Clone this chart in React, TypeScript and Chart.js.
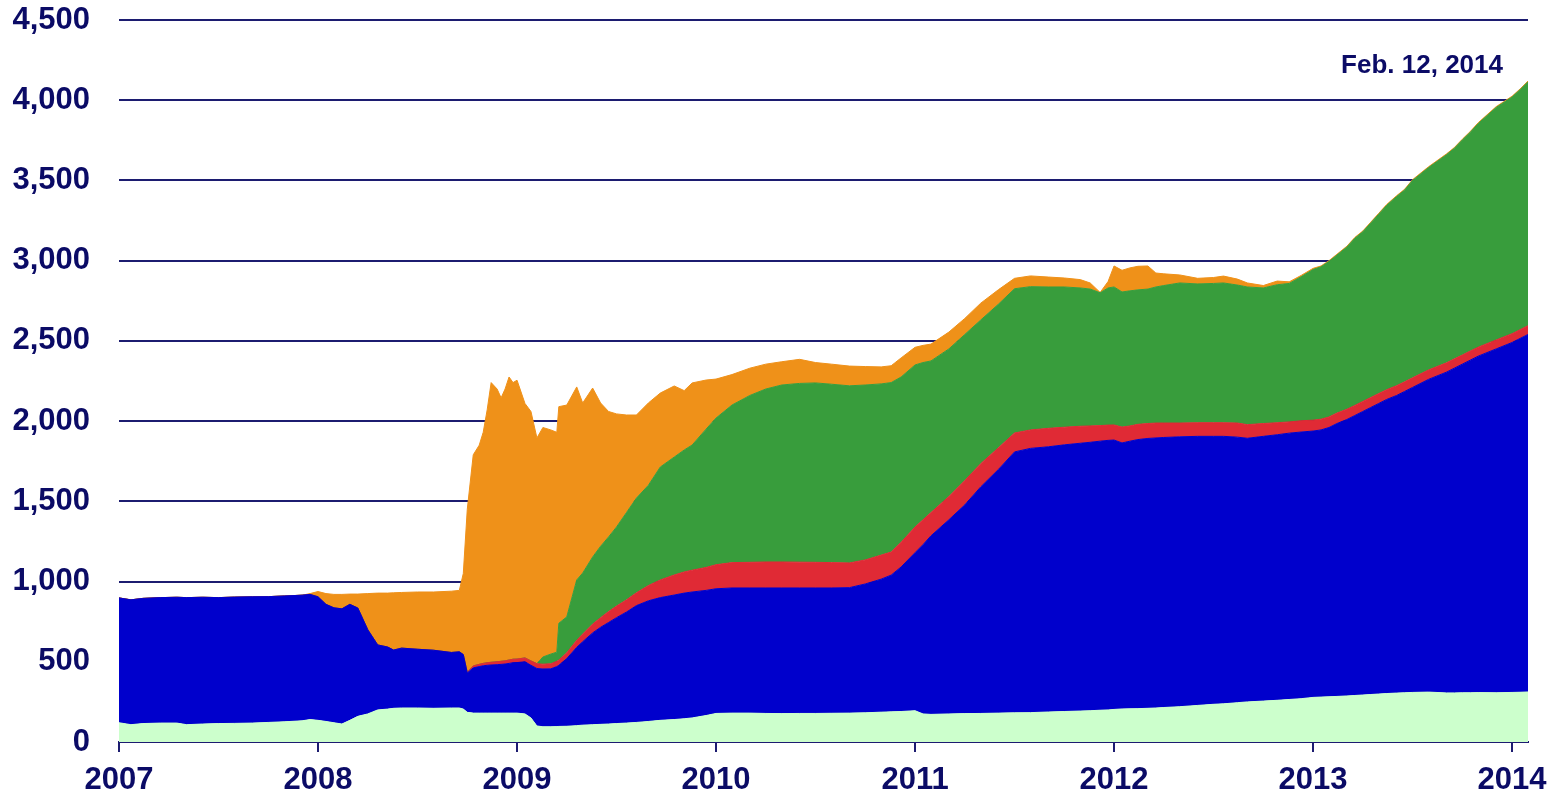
import React, { useEffect, useRef } from "react";
import { Chart, registerables } from "chart.js";

Chart.register(...registerables);

// Decimal-year dates of the sampled observations
const dates = [
  2007.0, 2007.06, 2007.12, 2007.21, 2007.29, 2007.34, 2007.42, 2007.5, 2007.58, 2007.67,
  2007.75, 2007.83, 2007.92, 2007.96, 2008.0, 2008.04, 2008.08, 2008.12, 2008.16, 2008.2,
  2008.25, 2008.3, 2008.35, 2008.38, 2008.42, 2008.5, 2008.58, 2008.67, 2008.71, 2008.73,
  2008.75, 2008.78, 2008.81, 2008.83, 2008.85, 2008.87, 2008.9, 2008.92, 2008.94, 2008.96,
  2008.98, 2009.0, 2009.04, 2009.07, 2009.1, 2009.13, 2009.17, 2009.2, 2009.21, 2009.25,
  2009.3, 2009.33, 2009.38, 2009.42, 2009.46, 2009.5, 2009.55, 2009.6, 2009.66, 2009.72,
  2009.79, 2009.84, 2009.88, 2009.95, 2010.0, 2010.08, 2010.17, 2010.25, 2010.33, 2010.42,
  2010.5, 2010.58, 2010.67, 2010.75, 2010.83, 2010.88, 2010.93, 2011.0, 2011.04, 2011.08,
  2011.17, 2011.25, 2011.33, 2011.42, 2011.5, 2011.58, 2011.67, 2011.75, 2011.83, 2011.88,
  2011.93, 2011.97, 2012.0, 2012.04, 2012.08, 2012.12, 2012.17, 2012.21, 2012.25, 2012.33,
  2012.42, 2012.5, 2012.55, 2012.62, 2012.67, 2012.75, 2012.82, 2012.88, 2012.94, 2013.0,
  2013.04, 2013.08, 2013.12, 2013.17, 2013.21, 2013.25, 2013.29, 2013.33, 2013.37, 2013.42,
  2013.46, 2013.5, 2013.58, 2013.67, 2013.71, 2013.75, 2013.79, 2013.83, 2013.92, 2014.0,
  2014.04, 2014.08,
];

// Billions of dollars, stacked bottom to top
const otherAssets = [
  120, 108, 115, 118, 118, 108, 112, 115, 116, 118,
  122, 126, 132, 140, 135, 128, 120, 112, 135, 160,
  175, 200, 205, 210, 212, 212, 210, 212, 212, 205,
  185, 180, 180, 180, 180, 180, 180, 180, 180, 180,
  180, 180, 175, 150, 100, 95, 95, 96, 97, 98,
  102, 105, 108, 110, 112, 115, 118, 122, 128, 135,
  140, 145, 150, 165, 178, 180, 180, 178, 177, 178,
  178, 179, 180, 182, 186, 188, 190, 195, 175, 172,
  175, 177, 178, 180, 182, 183, 187, 190, 193, 195,
  198, 200, 203, 206, 207, 208, 210, 212, 215, 220,
  228, 235, 238, 245, 250, 255, 260, 265, 270, 278,
  280, 282, 284, 287, 290, 293, 296, 299, 302, 305,
  307, 309, 311, 306, 306, 307, 307, 308, 307, 309,
  310, 312,
];

const treasuries = [
  778, 778, 780, 782, 784, 792, 790, 785, 787, 787,
  784, 784, 783, 780, 770, 730, 716, 718, 723, 675,
  525, 405, 387, 363, 373, 366, 362, 346, 350, 340,
  245, 282, 290, 295, 298, 300, 302, 304, 306, 310,
  314, 315, 325, 328, 358, 360, 361, 374, 381, 422,
  488, 520, 572, 605, 633, 660, 692, 728, 752, 765,
  776, 783, 785, 780, 777, 780, 780, 782, 783, 782,
  782, 781, 782, 803, 829, 852, 901, 985, 1055, 1113,
  1210, 1301, 1412, 1520, 1626, 1647, 1653, 1662, 1669, 1673,
  1677, 1680, 1679, 1658, 1668, 1677, 1682, 1683, 1683, 1682,
  1677, 1670, 1667, 1655, 1643, 1650, 1655, 1660, 1662, 1660,
  1665, 1678, 1701, 1723, 1745, 1767, 1789, 1811, 1833, 1855,
  1878, 1901, 1949, 1999, 2024, 2048, 2073, 2097, 2143, 2181,
  2205, 2228,
];

const agencyDebt = [
  0, 0, 0, 0, 0, 0, 0, 0, 0, 0,
  0, 0, 0, 0, 0, 0, 0, 0, 0, 0,
  0, 0, 0, 0, 0, 0, 0, 0, 0, 0,
  5, 12, 14, 15, 16, 17, 18, 19, 20, 21,
  22, 22, 24, 27, 30, 30, 32, 33, 33, 36,
  44, 48, 55, 60, 68, 72, 76, 80, 95, 110,
  125, 132, 136, 143, 150, 158, 160, 162, 162, 161,
  160, 158, 154, 150, 150, 144, 154, 160, 155, 145,
  145, 152, 145, 135, 118, 115, 115, 110, 106, 102,
  97, 95, 94, 99, 95, 95, 93, 93, 90, 86,
  85, 85, 85, 88, 85, 80, 75, 70, 70, 68,
  67, 66, 65, 64, 63, 63, 62, 62, 61, 61,
  60, 60, 59, 58, 58, 57, 57, 56, 56, 55,
  55, 55,
];

const mbs = [
  0, 0, 0, 0, 0, 0, 0, 0, 0, 0,
  0, 0, 0, 0, 0, 0, 0, 0, 0, 0,
  0, 0, 0, 0, 0, 0, 0, 0, 0, 0,
  0, 0, 0, 0, 0, 0, 0, 0, 0, 0,
  0, 0, 0, 0, 0, 45, 60, 57, 229, 224,
  376, 380, 418, 445, 465, 493, 544, 590, 625, 704,
  735, 760, 780, 862, 914, 982, 1040, 1078, 1103, 1114,
  1118, 1112, 1104, 1090, 1067, 1056, 1030, 1010, 980, 945,
  920, 910, 895, 895, 899, 893, 881, 874, 862, 853,
  828, 855, 860, 842, 842, 838, 838, 848, 857, 873,
  865, 868, 871, 860, 858, 845, 860, 863, 898, 939,
  950, 969, 985, 1011, 1042, 1057, 1088, 1118, 1149, 1179,
  1195, 1230, 1261, 1297, 1312, 1340, 1363, 1394, 1449, 1475,
  1495, 1520,
];

const lending = [
  0, 0, 0, 0, 0, 0, 0, 0, 0, 0,
  0, 0, 0, 5, 33, 67, 84, 90, 64, 87,
  225, 323, 336, 357, 347, 357, 363, 382, 383, 505,
  1015, 1316, 1366, 1440, 1576, 1743, 1700, 1642, 1694, 1764,
  1724, 1738, 1586, 1555, 1407, 1430, 1397, 1370, 1350, 1320,
  1203, 1060, 1053, 893, 782, 705, 608, 518, 513, 461,
  443, 370, 387, 306, 243, 190, 170, 155, 145, 150,
  127, 125, 123, 115, 106, 105, 119, 110, 107, 105,
  105, 100, 105, 90, 65, 67, 62, 56, 52, 38,
  2, 40, 131, 135, 143, 147, 144, 87, 73, 50,
  35, 37, 43, 37, 25, 15, 23, 10, 8, 7,
  5, 5, 5, 5, 5, 5, 5, 5, 5, 5,
  5, 5, 5, 5, 5, 5, 5, 5, 5, 5,
  5, 5,
];

const yearTicks = [2007, 2008, 2009, 2010, 2011, 2012, 2013, 2014];
const yTicks = [0, 500, 1000, 1500, 2000, 2500, 3000, 3500, 4000, 4500];
const dateLabel = "Feb. 12, 2014";

const NAVY = "#0b0b66";
const GRID = "#1c1c70";
const FONT = "'Liberation Sans', Arial, sans-serif";

const series = [
  { name: "Other assets", values: otherAssets, color: "#ccffcc" },
  { name: "Treasuries", values: treasuries, color: "#0000cc" },
  { name: "Agency debt", values: agencyDebt, color: "#e02a35" },
  { name: "Mortgage-backed securities", values: mbs, color: "#389d3c" },
  { name: "Lending", values: lending, color: "#ef9119" },
];

export default function App() {
  const ref = useRef<HTMLCanvasElement | null>(null);

  useEffect(() => {
    if (!ref.current) return;
    const labelPlugin = {
      id: "dateLabel",
      afterDraw(chart: any) {
        const { ctx, chartArea } = chart;
        ctx.save();
        ctx.font = `bold 26px ${FONT}`;
        ctx.fillStyle = NAVY;
        ctx.textAlign = "right";
        ctx.textBaseline = "alphabetic";
        ctx.fillText(dateLabel, chartArea.right - 25, chartArea.top + 53);
        ctx.restore();
      },
    };

    const chart = new Chart(ref.current, {
      type: "line",
      data: {
        datasets: series.map((s, i) => ({
          label: s.name,
          data: dates.map((d, j) => ({ x: d, y: s.values[j] })),
          backgroundColor: s.color,
          borderColor: s.color,
          borderWidth: 1,
          pointRadius: 0,
          tension: 0,
          fill: i === 0 ? "origin" : "-1",
        })),
      },
      options: {
        animation: false,
        responsive: false,
        maintainAspectRatio: false,
        layout: { padding: { top: 20, right: 31, bottom: 0, left: 0 } },
        plugins: {
          legend: { display: false },
          tooltip: { enabled: false },
          title: { display: false },
        },
        scales: {
          x: {
            type: "linear",
            min: 2007,
            max: 2014.08,
            afterBuildTicks: (s: any) => {
              s.ticks = yearTicks.map((v) => ({ value: v }));
            },
            afterFit: (s: any) => {
              s.height = 52;
              s.paddingLeft = 0;
              s.paddingRight = 0;
            },
            grid: {
              drawOnChartArea: false,
              drawTicks: true,
              tickLength: 10,
              color: GRID,
              lineWidth: 2,
            },
            border: { display: true, color: GRID, width: 2 },
            ticks: {
              autoSkip: false,
              maxRotation: 0,
              padding: 10,
              color: NAVY,
              font: { family: FONT, size: 31, weight: "bold" },
              callback: (v: any) => String(v),
            },
          },
          y: {
            stacked: true,
            min: 0,
            max: 4500,
            afterBuildTicks: (s: any) => {
              s.ticks = yTicks.map((v) => ({ value: v }));
            },
            afterFit: (s: any) => {
              s.width = 119;
              s.paddingTop = 0;
              s.paddingBottom = 0;
            },
            grid: { color: GRID, lineWidth: 2, drawTicks: false },
            border: { display: false },
            ticks: {
              padding: 29,
              color: NAVY,
              font: { family: FONT, size: 31, weight: "bold" },
              callback: (v: any) => Number(v).toLocaleString("en-US"),
            },
          },
        },
      },
      plugins: [labelPlugin],
    });
    return () => chart.destroy();
  }, []);

  return (
    <div style={{ position: "absolute", left: 0, top: 0, width: 1559, height: 794, background: "#fff" }}>
      <canvas ref={ref} width={1559} height={794} style={{ display: "block" }} />
    </div>
  );
}
